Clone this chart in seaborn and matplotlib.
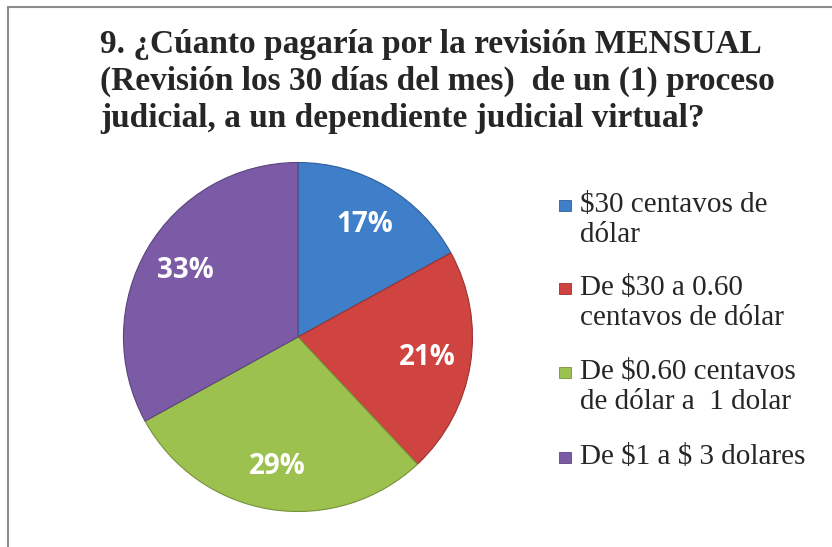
import matplotlib
matplotlib.use("Agg")
import matplotlib.pyplot as plt
import seaborn as sns
from matplotlib.lines import Line2D
from matplotlib.patches import Rectangle

# Data
categories = [
    "\\$30 centavos de\ndólar",
    "De \\$30 a 0.60\ncentavos de dólar",
    "De \\$0.60 centavos\nde dólar a  1 dolar",
    "De \\$1 a \\$ 3 dolares",
]
percentages = [17, 21, 29, 33]
colors = ["#3f7ec8", "#cf4340", "#9cc14f", "#7b5ba5"]
edge_colors = ["#2f5f99", "#9a3330", "#76923c", "#5c4480"]
title = ("9. ¿Cúanto pagaría por la revisión MENSUAL\n"
         "(Revisión los 30 días del mes)  de un (1) proceso\n"
         "judicial, a un dependiente judicial virtual?")

sns.set_theme(style="white")
plt.rcParams['font.family'] = ['Liberation Serif', 'DejaVu Serif']

W, H = 832, 547
fig = plt.figure(figsize=(W / 100, H / 100), dpi=100)
fig.patch.set_facecolor("white")

# Pie axes (square in pixels)
ax = fig.add_axes([0.1442, 0.0585, 0.4279, 0.6508])
wedges, texts = ax.pie(
    percentages,
    colors=colors,
    startangle=90,
    counterclock=False,
    labels=[f"{p}%" for p in percentages],
    labeldistance=0.75,
    wedgeprops=dict(linewidth=0.8),
    textprops=dict(color="white", fontsize=20, fontweight="bold",
                   family=["Open Sans", "DejaVu Sans"], ha="center", va="center"),
)
for w, ec in zip(wedges, edge_colors):
    w.set_edgecolor(ec)
ax.set_xlim(-1.02, 1.02)
ax.set_ylim(-1.02, 1.02)
ax.set_aspect("equal")
ax.axis("off")

# Title
fig.text(100 / W, 1 - 29 / H, title, ha="left", va="top",
         fontsize=24, fontweight="bold", linespacing=1.25)

# Legend (marker aligned with first line of each entry)
entry_y = [205, 288, 372, 457]
for label, c, ec, y in zip(categories, colors, edge_colors, entry_y):
    fig.add_artist(Rectangle((559 / W, 1 - (y + 6) / H), 12 / W, 11 / H,
                             facecolor=c, edgecolor=ec, linewidth=0.6,
                             transform=fig.transFigure))
    fig.text(580 / W, 1 - (y - 13) / H, label, ha="left", va="top",
             fontsize=21, linespacing=1.2)

# Outer frame (top and left edges visible)
fig.add_artist(Line2D([8 / W, 1], [1 - 7 / H, 1 - 7 / H],
                      color="#8c8c8c", linewidth=1.5, transform=fig.transFigure))
fig.add_artist(Line2D([8 / W, 8 / W], [0, 1 - 7 / H],
                      color="#8c8c8c", linewidth=1.5, transform=fig.transFigure))

fig.savefig("out.png", dpi=100)
